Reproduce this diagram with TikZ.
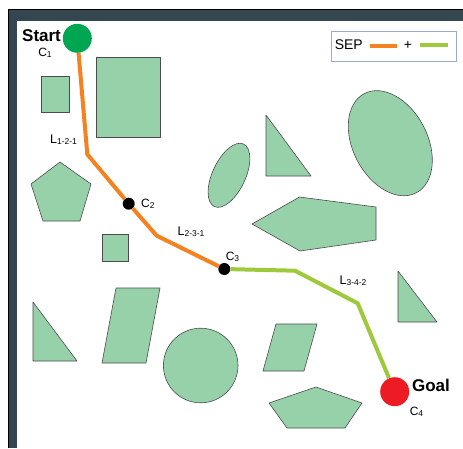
\documentclass[tikz,border=0pt]{standalone}
\usepackage{fontspec}
\setmainfont{Liberation Sans}
\usetikzlibrary{positioning}
\definecolor{frameblue}{HTML}{34464F}
\definecolor{obstgreen}{HTML}{97D1A9}
\definecolor{seporange}{HTML}{F58220}
\definecolor{pluslime}{HTML}{9DC93B}
\definecolor{startgreen}{HTML}{00A651}
\definecolor{goalred}{HTML}{ED1C24}
\definecolor{legendedge}{HTML}{9AAACB}
\newcommand{\lsub}[1]{\raisebox{-0.8pt}{\fontsize{8.5}{9}\selectfont #1}}

\begin{document}
\begin{tikzpicture}[
    x=1pt, y=-1pt,
    every node/.style={font=\fontsize{12}{14}\selectfont, inner sep=0pt},
    obstacle/.style={draw=black!70, fill=obstgreen, line width=0.6pt, line join=round},
    sepline/.style={draw=seporange, line width=4pt, line join=round},
    plusline/.style={draw=pluslime, line width=4pt, line join=round},
    endpoint/.style={circle, minimum size=29pt},
    waypoint/.style={circle, fill=black, minimum size=12pt},
    tag/.style={font=\bfseries\fontsize{17}{20}\selectfont},
    legendbox/.style={draw=legendedge, line width=0.8pt, minimum width=125pt, minimum height=30pt},
    legendtext/.style={font=\fontsize{14}{16}\selectfont}
]
\useasboundingbox (0,0) rectangle (463,448);
\fill[white] (0,0) rectangle (463,448);
\fill[frameblue] (8,9) rectangle (463,21);
\fill[frameblue] (8,9) rectangle (17,448);
\draw[black, line width=0.8pt] (8.4,448) -- (8.4,9.4) -- (463,9.4);

\draw[obstacle] (41,76) rectangle (69,112);
\draw[obstacle] (96,57) rectangle (160,137);
\draw[obstacle] (60,162) -- (91,184) -- (80,221) -- (43,221) -- (31,184) -- cycle;
\draw[obstacle] (102,234) rectangle (128,261);
\draw[obstacle] (33,302) -- (77,361) -- (33,361) -- cycle;
\draw[obstacle] (116,288) -- (160,288) -- (146,363) -- (102,363) -- cycle;
\draw[obstacle] (200.7,365.5) circle [radius=37.3pt];
\draw[obstacle, rotate around={65:(229,175.3)}] (229,175.3) ellipse [x radius=34.5pt, y radius=16.5pt];
\draw[obstacle] (266,115) -- (311,176) -- (266,176) -- cycle;
\draw[obstacle, rotate around={117.6:(390.3,143.2)}] (390.3,143.2) ellipse [x radius=56pt, y radius=37.3pt];
\draw[obstacle] (252,224) -- (299.5,197) -- (376,207) -- (376,240) -- (300,251) -- cycle;
\draw[obstacle] (398,271) -- (437,322) -- (398,322) -- cycle;
\draw[obstacle] (276,324) -- (317,324) -- (304,371) -- (263,371) -- cycle;
\draw[obstacle] (316,387) -- (362,403) -- (345,428) -- (287,428) -- (269,403) -- cycle;

\node[endpoint, fill=startgreen] (start) at (77.3,38.3) {};
\node[waypoint] (c2) at (128.7,203.7) {};
\node[waypoint] (c3) at (224.3,269) {};
\node[endpoint, fill=goalred] (goal) at (394.7,391.7) {};
\coordinate (k1) at (87.3,154.3);
\coordinate (k2) at (156.7,235.7);
\coordinate (k3) at (295,270.7);
\coordinate (k4) at (357.7,303.3);

\draw[sepline] (start) -- (k1) -- (c2) -- (k2) -- (c3);
\draw[plusline] (c3) -- (k3) -- (k4) -- (goal);

\node[tag, left=1.5pt of start, yshift=2.5pt] (starttext) {Start};
\node[tag, right=2.5pt of goal, yshift=6pt] (goaltext) {Goal};
\node (c1text) at (45,53) {C\lsub{1}};
\node[right=6pt of c2] (c2text) {C\lsub{2}};
\node (c3text) at (232.5,256.7) {C\lsub{3}};
\node (c4text) at (416.5,412) {C\lsub{4}};
\node[font=\fontsize{12.5}{14}\selectfont] (l121) at (63.5,140) {L\lsub{1-2-1}};
\node[font=\fontsize{12.5}{14}\selectfont] (l231) at (191,232) {L\lsub{2-3-1}};
\node[font=\fontsize{12.5}{14}\selectfont] (l342) at (353,281) {L\lsub{3-4-2}};

\node[legendbox] (legend) at (394,46) {};
\node[legendtext, anchor=west, yshift=1.5pt] (septext) at ([xshift=3.5pt]legend.west) {SEP};
\draw[sepline] ([xshift=7pt,yshift=-1.5pt]septext.east) -- ++(27,0);
\node[legendtext] (plussign) at (408,45) {+};
\draw[plusline] ([xshift=8pt]plussign.east) -- ++(28,0);
\end{tikzpicture}
\end{document}
